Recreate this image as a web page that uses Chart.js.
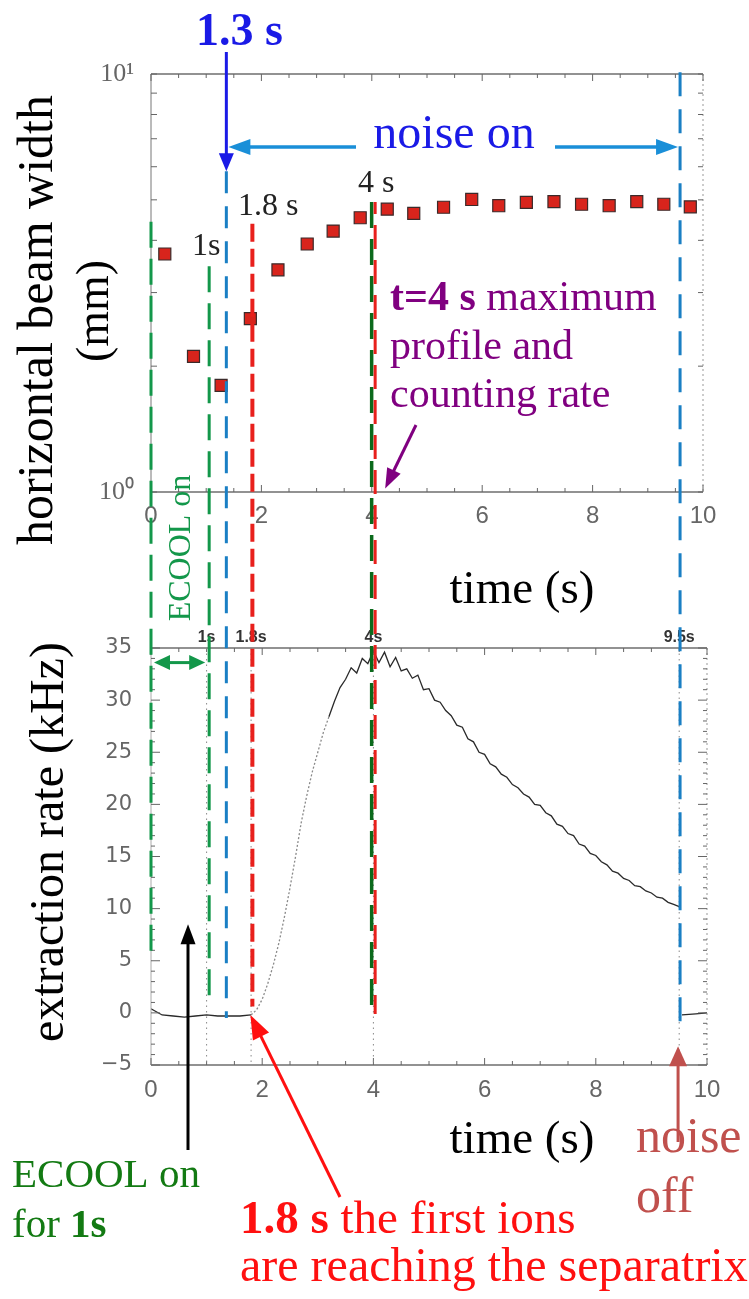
<!DOCTYPE html>
<html>
<head>
<meta charset="utf-8">
<script src="https://cdn.jsdelivr.net/npm/chart.js@4.4.1/dist/chart.umd.min.js"></script>
<style>
html,body{margin:0;padding:0;background:#fff;}
#wrap{position:relative;width:749px;height:1299px;overflow:hidden;}
canvas{position:absolute;left:0;top:0;}
</style>
</head>
<body>
<div id="wrap">
<canvas id="c1" width="749" height="1299"></canvas>
<canvas id="c2" width="749" height="1299"></canvas>
</div>
<script>
// ---- data ----
const widthTimes  = [0.25, 0.77, 1.27, 1.80, 2.30, 2.83, 3.30, 3.79, 4.28, 4.76, 5.30, 5.81, 6.30, 6.80, 7.30, 7.80, 8.30, 8.80, 9.29, 9.77];
const widthValues = [3.71, 2.11, 1.80, 2.60, 3.40, 3.92, 4.21, 4.53, 4.75, 4.64, 4.80, 5.01, 4.84, 4.93, 4.95, 4.88, 4.84, 4.95, 4.88, 4.81];

const rateTimes = [0, 0.2, 0.4, 0.6, 0.8, 1.0, 1.2, 1.4, 1.6, 1.8,
  1.9, 2.0, 2.1, 2.2, 2.3, 2.4, 2.5, 2.6, 2.7, 2.8, 2.9, 3.0, 3.1, 3.2, 3.3, 3.4, 3.5, 3.6, 3.7, 3.8, 3.9,
  4.0, 4.1, 4.2, 4.3, 4.4, 4.5, 4.6, 4.7, 4.8, 4.9, 5.0, 5.1, 5.2, 5.3, 5.4, 5.5, 5.6, 5.7, 5.8, 5.9,
  6.0, 6.1, 6.2, 6.3, 6.4, 6.5, 6.6, 6.7, 6.8, 6.9, 7.0, 7.1, 7.2, 7.3, 7.4, 7.5, 7.6, 7.7, 7.8, 7.9,
  8.0, 8.1, 8.2, 8.3, 8.4, 8.5, 8.6, 8.7, 8.8, 8.9, 9.0, 9.1, 9.2, 9.3, 9.4, 9.5, 9.52, 9.55, 9.8, 10.0];
const rateValues = [0.4, -0.2, -0.3, -0.4, -0.3, -0.2, -0.3, -0.3, -0.3, -0.2,
  0.3, 1.3, 2.8, 4.6, 6.7, 9.2, 12.0, 15.0, 18.2, 20.8, 23.1, 25.0, 26.9, 28.4, 29.9, 31.2, 32.0, 33.1, 32.6, 34.0, 33.5,
  34.7, 33.6, 34.6, 33.2, 34.1, 32.8, 33.0, 32.1, 32.4, 31.0, 31.1, 30.0, 29.8, 29.0, 28.5, 27.6, 27.4, 26.3, 26.0, 25.0,
  24.8, 23.9, 23.6, 22.9, 22.6, 21.9, 21.6, 21.0, 20.7, 20.0, 19.9, 19.2, 18.9, 18.1, 17.9, 17.2, 17.0, 16.2, 16.0, 15.3,
  15.1, 14.5, 14.2, 13.6, 13.4, 12.9, 12.7, 12.2, 12.1, 11.7, 11.5, 11.1, 11.0, 10.6, 10.4, 10.2, null, -0.2, -0.1, 0.0];

const timeTicks = [0, 2, 4, 6, 8, 10];
const widthTickValues = [1, 10];
const widthTickLabels = ['10\u2070', '10\u00B9'];
const rateTickValues = [-5, 0, 5, 10, 15, 20, 25, 30, 35];
const rateTickLabels = ['\u22125', '0', '5', '10', '15', '20', '25', '30', '35'];
const markerTimes = [1, 1.8, 4, 9.5];
const markerLabels = ['1s', '1.8s', '4s', '9.5s'];
// event times of the overlay lines (s)
const tEcoolStart = 0, tEcoolEnd = 1.05, tNoiseOn = 1.36, tFirstIons = 1.83, tMax = 4.01, tNoiseOff = 9.55;

const SERIF = '"Liberation Serif", "Times New Roman", serif';
const SANS = '"Liberation Sans", Arial, sans-serif';

let chart1 = null;

function fixedTicks(values) { return s => { s.ticks = values.map(v => ({value: v})); }; }

// ---- frame plugin (axes boxes and small inner ticks) ----
const framePlugin = {
  id: 'frame',
  afterDatasetsDraw(chart, args, opts) {
    const ctx = chart.ctx, a = chart.chartArea, sx = chart.scales.x, sy = chart.scales.y;
    ctx.save();
    ctx.strokeStyle = '#6f6f6f';
    ctx.lineWidth = 1.5;
    ctx.beginPath();
    ctx.moveTo(a.left, a.top); ctx.lineTo(a.right, a.top);
    ctx.moveTo(a.left, a.bottom); ctx.lineTo(a.right, a.bottom);
    ctx.stroke();
    ctx.lineWidth = 1;
    ctx.strokeStyle = opts.log ? '#777' : '#aaa';
    ctx.beginPath(); ctx.moveTo(a.left, a.top); ctx.lineTo(a.left, a.bottom); ctx.stroke();
    ctx.strokeStyle = '#999';
    ctx.setLineDash([2, 3]);
    ctx.beginPath(); ctx.moveTo(a.right, a.top); ctx.lineTo(a.right, a.bottom); ctx.stroke();
    ctx.setLineDash([]);
    ctx.strokeStyle = '#666';
    ctx.lineWidth = 1;
    ctx.beginPath();
    for (let t = 0; t <= 10; t += 0.5) {
      const x = sx.getPixelForValue(t), L = (t % 2 === 0) ? 7 : 4;
      ctx.moveTo(x, a.top); ctx.lineTo(x, a.top + L);
      ctx.moveTo(x, a.bottom); ctx.lineTo(x, a.bottom - L);
    }
    if (opts.log) {
      for (let v = 1; v <= 10; v++) {
        const y = sy.getPixelForValue(v);
        ctx.moveTo(a.left, y); ctx.lineTo(a.left + 6, y);
        ctx.moveTo(a.right, y); ctx.lineTo(a.right - 5, y);
      }
    } else {
      for (let v = -5; v <= 35; v++) {
        const y = sy.getPixelForValue(v), L = (v % 5 === 0) ? 9 : 4;
        ctx.moveTo(a.left, y); ctx.lineTo(a.left + L, y);
        ctx.moveTo(a.right, y); ctx.lineTo(a.right - L, y);
      }
    }
    ctx.stroke();
    if (!opts.log) {
      // faint dotted original markers in the scanned rate plot
      ctx.strokeStyle = '#888';
      ctx.setLineDash([1.5, 4]);
      ctx.beginPath();
      markerTimes.forEach(t => { const x = sx.getPixelForValue(t); ctx.moveTo(x, a.top); ctx.lineTo(x, a.bottom); });
      ctx.stroke();
      ctx.setLineDash([]);
      ctx.fillStyle = '#333';
      ctx.font = 'bold 16px ' + SANS;
      ctx.textAlign = 'center';
      ctx.textBaseline = 'alphabetic';
      markerTimes.forEach((t, i) => ctx.fillText(markerLabels[i], sx.getPixelForValue(t), a.top - 6));
    }
    ctx.restore();
  }
};

// ---- drawing helpers ----
function vline(ctx, x, y1, y2, color, w, dash, off) {
  ctx.save();
  ctx.strokeStyle = color; ctx.lineWidth = w;
  ctx.setLineDash(dash); ctx.lineDashOffset = off || 0;
  ctx.beginPath(); ctx.moveTo(x, y1); ctx.lineTo(x, y2); ctx.stroke();
  ctx.restore();
}
function head(ctx, x1, y1, x2, y2, hl, hw) {
  const ang = Math.atan2(y2 - y1, x2 - x1);
  ctx.beginPath();
  ctx.moveTo(x2, y2);
  ctx.lineTo(x2 - hl * Math.cos(ang) + hw / 2 * Math.sin(ang), y2 - hl * Math.sin(ang) - hw / 2 * Math.cos(ang));
  ctx.lineTo(x2 - hl * Math.cos(ang) - hw / 2 * Math.sin(ang), y2 - hl * Math.sin(ang) + hw / 2 * Math.cos(ang));
  ctx.closePath(); ctx.fill();
}
function arrow(ctx, x1, y1, x2, y2, color, w, hl, hw, both) {
  ctx.save();
  ctx.strokeStyle = color; ctx.fillStyle = color; ctx.lineWidth = w;
  const ang = Math.atan2(y2 - y1, x2 - x1);
  let sx = x1, sy = y1;
  if (both) { sx = x1 + hl * 0.8 * Math.cos(ang); sy = y1 + hl * 0.8 * Math.sin(ang); }
  ctx.beginPath();
  ctx.moveTo(sx, sy);
  ctx.lineTo(x2 - hl * 0.8 * Math.cos(ang), y2 - hl * 0.8 * Math.sin(ang));
  ctx.stroke();
  head(ctx, x1, y1, x2, y2, hl, hw);
  if (both) head(ctx, x2, y2, x1, y1, hl, hw);
  ctx.restore();
}
function rich(ctx, parts, x, y, size, color, align) {
  ctx.save();
  ctx.fillStyle = color; ctx.textBaseline = 'alphabetic'; ctx.textAlign = 'left';
  let total = 0;
  parts.forEach(p => { ctx.font = (p[1] ? 'bold ' : '') + size + 'px ' + SERIF; total += ctx.measureText(p[0]).width; });
  let cx = align === 'center' ? x - total / 2 : x;
  parts.forEach(p => { ctx.font = (p[1] ? 'bold ' : '') + size + 'px ' + SERIF; ctx.fillText(p[0], cx, y); cx += ctx.measureText(p[0]).width; });
  ctx.restore();
}
function vtext(ctx, text, x, y, size, color) {
  ctx.save();
  ctx.translate(x, y); ctx.rotate(-Math.PI / 2);
  ctx.fillStyle = color; ctx.font = size + 'px ' + SERIF;
  ctx.textAlign = 'center'; ctx.textBaseline = 'alphabetic';
  ctx.fillText(text, 0, 0);
  ctx.restore();
}

// ---- annotation overlay (drawn on the lower chart's canvas, spans both panels) ----
const overlayPlugin = {
  id: 'overlay',
  afterDraw(chart) {
    if (!chart1) return;
    const ctx = chart.ctx;
    const X = t => (chart1.scales.x.getPixelForValue(t) + chart.scales.x.getPixelForValue(t)) / 2;
    const yW = v => chart1.scales.y.getPixelForValue(v);   // top panel (beam width)
    const yR = v => chart.scales.y.getPixelForValue(v);    // bottom panel (rate)

    const blueDark = '#1a1ae6', blueLight = '#1a8fd8', blueDash = '#1a7fc4';
    const greenL = '#13974a', greenD = '#0b6a1c', red = '#e8201c';

    // vertical event lines
    vline(ctx, X(tEcoolStart), yW(4.43), yR(5.3), greenL, 3, [26, 11]);
    vline(ctx, X(tEcoolEnd), yW(3.47), yR(1.0), greenL, 3, [26, 11]);
    vline(ctx, X(tNoiseOn), yW(5.85), yR(-0.5), blueDash, 3, [22, 13]);
    vline(ctx, X(tFirstIons), yW(4.38), yR(0.6), red, 4, [18, 7]);
    vline(ctx, X(tMax) - 1.5, yW(4.94), yR(-0.3), greenD, 3.5, [26, 11]);
    vline(ctx, X(tMax) + 2, yW(4.94), yR(-0.1), red, 3, [24, 11], 12);
    vline(ctx, X(tNoiseOff), yW(10.1), yR(-1.3), blueDash, 3, [24, 13]);

    // 1.3 s label + arrow
    rich(ctx, [['1.3 s', true]], X(tNoiseOn) + 13, 45, 46, blueDark, 'center');
    arrow(ctx, X(tNoiseOn), 52, X(tNoiseOn), yW(5.85), blueDark, 3, 18, 15);
    // noise on
    rich(ctx, [['noise on', false]], 454, 148, 48, blueDark, 'center');
    arrow(ctx, 356, 147, X(tNoiseOn) + 2, 147, blueLight, 3.5, 22, 16);
    arrow(ctx, 555, 147, X(tNoiseOff) - 2, 147, blueLight, 3.5, 22, 16);

    // time labels at the top panel
    rich(ctx, [['1s', false]], 192, 255, 32, '#222');
    rich(ctx, [['1.8 s', false]], 238, 215, 32, '#222');
    rich(ctx, [['4 s', false]], 358, 192, 32, '#222');

    // t = 4 s note
    rich(ctx, [['t=4 s', true], [' maximum', false]], 390, 310, 42, '#800080');
    rich(ctx, [['profile and', false]], 390, 359, 42, '#800080');
    rich(ctx, [['counting rate', false]], 390, 407, 42, '#800080');
    arrow(ctx, 416, 425, X(tMax) + 12, yW(1.02), '#800080', 3, 20, 15);

    // axis titles
    vtext(ctx, 'horizontal beam width', 52, 320, 50, '#000');
    vtext(ctx, '(mm)', 108, 311, 46, '#000');
    rich(ctx, [['time (s)', false]], 522, 603, 47, '#000', 'center');
    vtext(ctx, 'extraction rate (kHz)', 63, 842, 48, '#000');
    rich(ctx, [['time (s)', false]], 522, 1153, 47, '#000', 'center');

    // ECOOL on (rotated) + double arrow
    vtext(ctx, 'ECOOL on', 190, 548, 32, greenL);
    arrow(ctx, X(tEcoolStart) + 3, yR(33.6), X(tEcoolEnd) - 4, yR(33.6), greenL, 3, 16, 15, true);

    // bottom notes
    arrow(ctx, 188, 1150, 188, yR(8.5), '#000', 3, 20, 15);
    rich(ctx, [['ECOOL on', false]], 12, 1187, 41, '#137a13');
    rich(ctx, [['for ', false], ['1s', true]], 12, 1237, 41, '#137a13');

    arrow(ctx, 340, 1197, X(tFirstIons) - 2, yR(-0.2), '#ff1010', 3, 24, 18);
    rich(ctx, [['1.8 s', true], [' the first ions', false]], 240, 1233, 47, '#ff1010');
    rich(ctx, [['are reaching the separatrix', false]], 240, 1281, 48, '#ff1010');

    arrow(ctx, X(tNoiseOff) - 2, 1142, X(tNoiseOff) - 2, yR(-3.2), '#c0504d', 3, 20, 18);
    rich(ctx, [['noise', false]], 636, 1152, 50, '#c0504d');
    rich(ctx, [['off', false]], 636, 1212, 50, '#c0504d');
  }
};

// ---- top panel: horizontal beam width (log) ----
chart1 = new Chart(document.getElementById('c1'), {
  type: 'scatter',
  data: {
    datasets: [{
      data: widthTimes.map((t, i) => ({x: t, y: widthValues[i]})),
      pointStyle: 'rect',
      pointRadius: 8.5,
      pointHoverRadius: 8.5,
      backgroundColor: '#d8241c',
      borderColor: '#3b2a2a',
      borderWidth: 1.2
    }]
  },
  options: {
    responsive: false, animation: false, devicePixelRatio: 1,
    layout: {padding: {left: 0, top: 74, right: 46, bottom: 767}},
    plugins: {legend: {display: false}, tooltip: {enabled: false}, frame: {log: true}},
    scales: {
      x: {
        type: 'linear', min: 0, max: 10,
        afterBuildTicks: fixedTicks(timeTicks),
        afterFit: s => { s.height = 40; },
        grid: {display: false, drawTicks: false}, border: {display: false},
        ticks: {padding: 10, font: {family: SANS, size: 24}, color: '#666', maxRotation: 0}
      },
      y: {
        type: 'logarithmic', min: 1, max: 10,
        afterBuildTicks: fixedTicks(widthTickValues),
        afterFit: s => { s.width = 151; },
        grid: {display: false, drawTicks: false}, border: {display: false},
        ticks: {padding: 17, autoSkip: false, font: {family: SERIF, size: 26}, color: '#666',
                callback: (v, i) => widthTickLabels[i]}
      }
    }
  },
  plugins: [framePlugin]
});

// ---- bottom panel: extraction rate ----
new Chart(document.getElementById('c2'), {
  type: 'line',
  data: {
    datasets: [{
      data: rateTimes.map((t, i) => ({x: t, y: rateValues[i]})),
      borderColor: '#2a2a2a',
      borderWidth: 1.3,
      pointRadius: 0,
      tension: 0,
      spanGaps: false,
      segment: {
        borderColor: c => (c.p0.parsed.x >= 1.8 && c.p0.parsed.x < 3.2) ? '#8a8a8a' : '#2a2a2a',
        borderDash: c => (c.p0.parsed.x >= 1.8 && c.p0.parsed.x < 3.2) ? [2, 2] : undefined
      }
    }]
  },
  options: {
    responsive: false, animation: false, devicePixelRatio: 1,
    layout: {padding: {left: 0, top: 648, right: 42, bottom: 194}},
    plugins: {legend: {display: false}, tooltip: {enabled: false}, frame: {log: false}},
    scales: {
      x: {
        type: 'linear', min: 0, max: 10,
        afterBuildTicks: fixedTicks(timeTicks),
        afterFit: s => { s.height = 40; },
        grid: {display: false, drawTicks: false}, border: {display: false},
        ticks: {padding: 11, font: {family: SANS, size: 24}, color: '#666', maxRotation: 0}
      },
      y: {
        type: 'linear', min: -5, max: 35,
        afterBuildTicks: fixedTicks(rateTickValues),
        afterFit: s => { s.width = 151; },
        grid: {display: false, drawTicks: false}, border: {display: false},
        ticks: {padding: 19, autoSkip: false, font: {family: '"DejaVu Sans", sans-serif', size: 21}, color: '#666',
                callback: (v, i) => rateTickLabels[i]}
      }
    }
  },
  plugins: [framePlugin, overlayPlugin]
});
</script>
</body>
</html>
